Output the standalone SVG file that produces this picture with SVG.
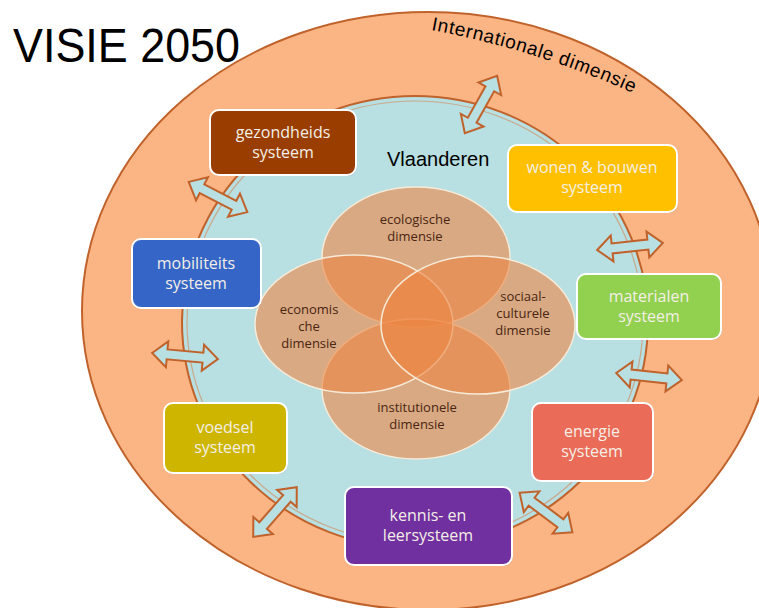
<svg xmlns="http://www.w3.org/2000/svg" width="759" height="608" viewBox="0 0 759 608">
<style>
.box{stroke:#ffffff;stroke-width:2}
.shadow{fill:#000;opacity:0.18}
.bt{font-family:"Open Sans","Noto Sans",sans-serif;font-size:16px;fill:#F4EFE6;text-anchor:middle}
.vt{font-family:"Open Sans","Noto Sans",sans-serif;font-size:13px;fill:#4A2512;text-anchor:middle}
.venn{fill:#EC8643;fill-opacity:0.6;stroke:#F6EAD8;stroke-width:1.5}
.arrow{fill:#B8DFE1;stroke:#C0622B;stroke-width:2;stroke-linejoin:miter}
</style>
<defs>
<path id="dbl" d="M -33 0 L -18 -13 L -18 -5 L 18 -5 L 18 -13 L 33 0 L 18 13 L 18 5 L -18 5 L -18 13 Z"/>
<path id="arcPath" d="M 431 30 A 900 900 0 0 1 646 99"/>
</defs>
<rect x="0" y="0" width="759" height="608" fill="#ffffff"/>
<g id="internationaal">
<ellipse cx="428" cy="311" rx="346" ry="299" fill="#FBB584" stroke="#C0622B" stroke-width="2"/>
<text font-family="Liberation Sans, Arial, sans-serif" font-size="19" fill="#000"><textPath href="#arcPath" textLength="212" lengthAdjust="spacing">Internationale dimensie</textPath></text>
</g>
<g id="vlaanderen">
<ellipse cx="415" cy="322" rx="233" ry="226" fill="#B8DFE1" stroke="#C0622B" stroke-width="2"/>
<ellipse cx="415" cy="322" rx="228" ry="221" fill="none" stroke="#C9A98C" stroke-width="1.2"/>
<text x="387" y="166" font-family="Liberation Sans, Arial, sans-serif" font-size="20" fill="#000">Vlaanderen</text>
</g>
<text x="13" y="62" font-family="Liberation Sans, Arial, sans-serif" font-size="49" fill="#000" textLength="227" lengthAdjust="spacingAndGlyphs">VISIE 2050</text>
<g id="dimensies">
<g id="ecologisch"><ellipse class="venn" cx="416" cy="257" rx="94" ry="70"/></g>
<g id="institutioneel"><ellipse class="venn" cx="416" cy="389" rx="94" ry="70"/></g>
<g id="economisch"><ellipse class="venn" cx="354" cy="324" rx="99" ry="69"/></g>
<g id="sociaal"><ellipse class="venn" cx="478" cy="325" rx="97" ry="69"/></g>
<text class="vt" x="415" y="224">ecologische</text>
<text class="vt" x="415" y="241">dimensie</text>
<text class="vt" x="309" y="314">economis</text>
<text class="vt" x="309" y="331">che</text>
<text class="vt" x="309" y="348">dimensie</text>
<text class="vt" x="523" y="301">sociaal-</text>
<text class="vt" x="523" y="318">culturele</text>
<text class="vt" x="523" y="335">dimensie</text>
<text class="vt" x="417" y="412">institutionele</text>
<text class="vt" x="417" y="429">dimensie</text>
</g>
<g id="connectors">
<use href="#dbl" class="arrow" transform="translate(481,104.5) rotate(-60.7)"/>
<use href="#dbl" class="arrow" transform="translate(218,197) rotate(27.3)"/>
<use href="#dbl" class="arrow" transform="translate(185,356) rotate(5.2)"/>
<use href="#dbl" class="arrow" transform="translate(275,512) rotate(-48.7)"/>
<use href="#dbl" class="arrow" transform="translate(546,512.5) rotate(36.9)"/>
<use href="#dbl" class="arrow" transform="translate(630,246.5) rotate(-6.1)"/>
<use href="#dbl" class="arrow" transform="translate(649,376.5) rotate(6.1)"/>
</g>
<g id="gezondheid">
<rect class="shadow" x="211" y="111" width="146" height="65" rx="9"/>
<rect class="box" x="210" y="110" width="146" height="65" rx="9" fill="#993D00"/>
<text class="bt" x="283" y="138">gezondheids</text>
<text class="bt" x="283" y="158">systeem</text>
</g>
<g id="wonen">
<rect class="shadow" x="509" y="146" width="169" height="67" rx="9"/>
<rect class="box" x="508" y="145" width="169" height="67" rx="9" fill="#FFC000"/>
<text class="bt" x="592" y="173">wonen &amp; bouwen</text>
<text class="bt" x="592" y="193">systeem</text>
</g>
<g id="mobiliteit">
<rect class="shadow" x="133" y="240" width="129" height="69" rx="9"/>
<rect class="box" x="132" y="239" width="129" height="69" rx="9" fill="#3565C6"/>
<text class="bt" x="196" y="269">mobiliteits</text>
<text class="bt" x="196" y="289">systeem</text>
</g>
<g id="materialen">
<rect class="shadow" x="578" y="275" width="144" height="65" rx="9"/>
<rect class="box" x="577" y="274" width="144" height="65" rx="9" fill="#92D050"/>
<text class="bt" x="649" y="302">materialen</text>
<text class="bt" x="649" y="322">systeem</text>
</g>
<g id="voedsel">
<rect class="shadow" x="165" y="404" width="123" height="70" rx="9"/>
<rect class="box" x="164" y="403" width="123" height="70" rx="9" fill="#CDB500"/>
<text class="bt" x="225" y="433">voedsel</text>
<text class="bt" x="225" y="453">systeem</text>
</g>
<g id="energie">
<rect class="shadow" x="533" y="404" width="121" height="78" rx="9"/>
<rect class="box" x="532" y="403" width="121" height="78" rx="9" fill="#EA6B58"/>
<text class="bt" x="592" y="437">energie</text>
<text class="bt" x="592" y="457">systeem</text>
</g>
<g id="kennis">
<rect class="shadow" x="346" y="488" width="167" height="78" rx="9"/>
<rect class="box" x="345" y="487" width="167" height="78" rx="9" fill="#7030A0"/>
<text class="bt" x="428" y="521">kennis- en</text>
<text class="bt" x="428" y="541">leersysteem</text>
</g>
</svg>
